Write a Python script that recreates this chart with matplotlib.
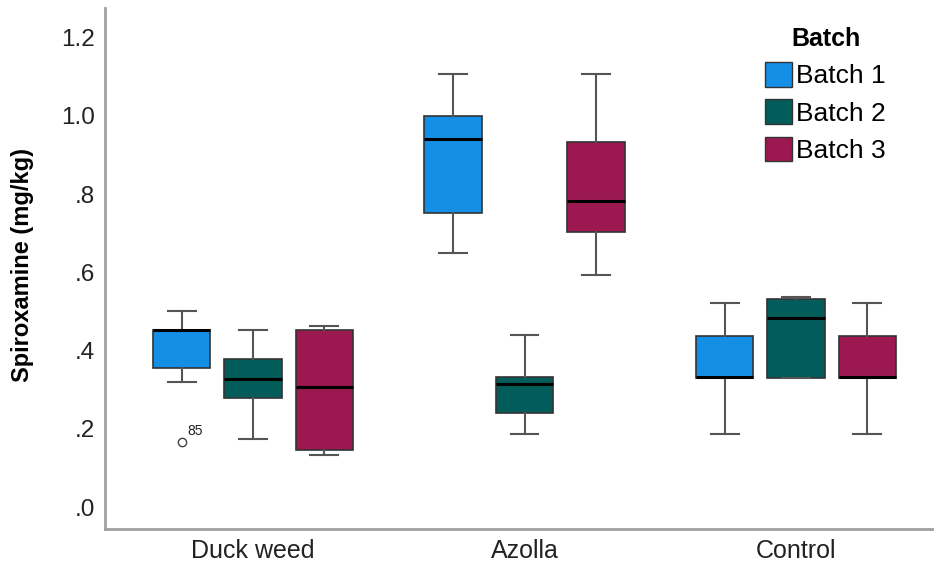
import matplotlib
matplotlib.use("Agg")
import matplotlib.pyplot as plt
from matplotlib.patches import Patch

plt.rcParams["font.family"] = ["Liberation Sans", "DejaVu Sans"]

# categories and batches
groups = ["Duck weed", "Azolla", "Control"]
batches = ["Batch 1", "Batch 2", "Batch 3"]
colors = ["#158fe6", "#025c5a", "#9c1850"]

# five-number summaries per batch, one value per group
b1_whislo = [0.321, 0.649, 0.186]
b1_q1 = [0.356, 0.751, 0.329]
b1_med = [0.452, 0.940, 0.333]
b1_q3 = [0.454, 1.000, 0.437]
b1_whishi = [0.502, 1.107, 0.521]

b2_whislo = [0.175, 0.186, 0.329]
b2_q1 = [0.278, 0.240, 0.331]
b2_med = [0.327, 0.315, 0.483]
b2_q3 = [0.378, 0.332, 0.531]
b2_whishi = [0.454, 0.439, 0.538]

b3_whislo = [0.133, 0.593, 0.186]
b3_q1 = [0.146, 0.703, 0.329]
b3_med = [0.308, 0.783, 0.333]
b3_q3 = [0.453, 0.933, 0.437]
b3_whishi = [0.463, 1.107, 0.521]

# outliers: (batch index, group index, value, case label)
outliers = [(0, 0, 0.167, "85")]

series = [
    (b1_whislo, b1_q1, b1_med, b1_q3, b1_whishi),
    (b2_whislo, b2_q1, b2_med, b2_q3, b2_whishi),
    (b3_whislo, b3_q1, b3_med, b3_q3, b3_whishi),
]

fig = plt.figure(figsize=(9.34, 5.61), dpi=100)
ax = fig.add_axes([0.1124, 0.057, 0.8876, 0.9287])

offset = 0.263
width = 0.212
for bi, (lo, q1, med, q3, hi) in enumerate(series):
    stats = []
    for gi in range(len(groups)):
        fl = [v for (b, g, v, _) in outliers if b == bi and g == gi]
        stats.append(dict(whislo=lo[gi], q1=q1[gi], med=med[gi], q3=q3[gi],
                          whishi=hi[gi], fliers=fl))
    pos = [gi + (bi - 1) * offset for gi in range(len(groups))]
    art = ax.bxp(stats, positions=pos, widths=width, capwidths=0.103,
                 patch_artist=True, manage_ticks=False,
                 boxprops=dict(edgecolor="#333333", linewidth=1.2),
                 whiskerprops=dict(color="#555555", linewidth=1.5),
                 capprops=dict(color="#555555", linewidth=1.5),
                 medianprops=dict(color="black", linewidth=2.2),
                 flierprops=dict(marker="o", markerfacecolor="none",
                                 markeredgecolor="#444444", markersize=6,
                                 markeredgewidth=1.0))
    for box in art["boxes"]:
        box.set_facecolor(colors[bi])
        box.set_zorder(2)

for b, g, v, lab in outliers:
    ax.annotate(lab, xy=(g + (b - 1) * offset, v), xytext=(4.5, 7.5),
                textcoords="offset points", ha="left", va="center",
                fontsize=10, color="#222222")

ax.set_xlim(-0.545, 2.508)
ax.set_ylim(-0.056, 1.276)
ax.set_xticks(range(len(groups)))
ax.set_xticklabels(groups)
yt = [0.0, 0.2, 0.4, 0.6, 0.8, 1.0, 1.2]
ax.set_yticks(yt)
ax.set_yticklabels([".0", ".2", ".4", ".6", ".8", "1.0", "1.2"])
ax.tick_params(axis="y", length=0, labelsize=17.5, labelcolor="#222222", pad=7)
ax.tick_params(axis="x", length=0, labelsize=18, labelcolor="#222222", pad=7)

for s in ["top", "right"]:
    ax.spines[s].set_visible(False)
for s in ["left", "bottom"]:
    ax.spines[s].set_color("#a0a0a0")
    ax.spines[s].set_linewidth(2)

ax.set_ylabel("Spiroxamine (mg/kg)", fontsize=17, fontweight="bold")
ax.yaxis.set_label_coords(-0.0856, 0.507)

handles = [Patch(facecolor=c, edgecolor="#333333", linewidth=1.0) for c in colors]
leg = fig.legend(handles, batches, title="Batch", loc="upper left",
                 bbox_to_anchor=(765 / 934, 1 - 27 / 561), frameon=False,
                 borderpad=0, borderaxespad=0, prop={"size": 19},
                 title_fontproperties={"size": 18, "weight": "bold"},
                 handlelength=1.03, handleheight=1.05, handletextpad=0.16,
                 labelspacing=0.42)

fig.savefig("out.png", dpi=100)
